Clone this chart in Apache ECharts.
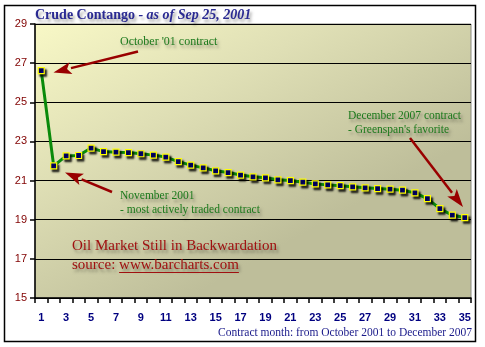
<!DOCTYPE html>
<html>
<head>
<meta charset="utf-8">
<style>
  html, body { margin: 0; padding: 0; background: #ffffff; }
  #chart { width: 485px; height: 347px; }
</style>
<script src="https://cdn.jsdelivr.net/npm/echarts@6/dist/echarts.min.js"></script>
</head>
<body>
<div id="chart"></div>
<script>
// Contract months 1..35 (October 2001 .. December 2007)
const months = Array.from({ length: 35 }, (_, i) => String(i + 1));

// Crude oil futures settlement prices, $/bbl, by contract month
const prices = [
  26.62, 21.75, 22.26, 22.28, 22.66, 22.48, 22.45, 22.43, 22.37, 22.30,
  22.20, 21.97, 21.79, 21.65, 21.50, 21.41, 21.28, 21.19, 21.14, 21.04,
  21.00, 20.92, 20.83, 20.78, 20.74, 20.68, 20.63, 20.59, 20.56, 20.51,
  20.37, 20.08, 19.57, 19.23, 19.11
];

const yMin = 15, yMax = 29, yStep = 2;

const serif = '"Liberation Serif", "DejaVu Serif", serif';
const sans = '"Liberation Sans", Arial, sans-serif';
const green = '#1c7a1c';
const darkRed = '#a01010';
const arrowRed = '#990000';

const shadowText = {
  textShadowColor: 'rgba(0,0,0,0.35)',
  textShadowBlur: 3,
  textShadowOffsetX: 2,
  textShadowOffsetY: 3
};

function note(text, left, top, color, size) {
  return {
    text: text,
    left: left,
    top: top,
    padding: 0,
    textStyle: Object.assign({
      fontFamily: serif,
      fontWeight: 'normal',
      fontSize: size,
      color: color
    }, shadowText)
  };
}

// Straight arrow: shaft plus triangular head ending at the tip
function arrow(x1, y1, x2, y2) {
  const dx = x2 - x1, dy = y2 - y1;
  const len = Math.sqrt(dx * dx + dy * dy);
  const ux = dx / len, uy = dy / len;
  const headLen = 18, headHalf = 6;
  const bx = x2 - ux * headLen, by = y2 - uy * headLen;
  return [
    {
      type: 'line', z: 50,
      shape: { x1: x1, y1: y1, x2: bx, y2: by },
      style: { stroke: arrowRed, lineWidth: 2.5 }
    },
    {
      type: 'polygon', z: 50,
      shape: { points: [
        [x2, y2],
        [bx - uy * headHalf, by + ux * headHalf],
        [bx + ux * 4, by + uy * 4],
        [bx + uy * headHalf, by - ux * headHalf]
      ] },
      style: { fill: arrowRed }
    }
  ];
}

// width of a string in a given font, for the link underline
const measureCtx = document.createElement('canvas').getContext('2d');
function textWidth(str, font) {
  measureCtx.font = font;
  return measureCtx.measureText(str).width;
}

const srcSize = 15;
const srcFont = srcSize + 'px ' + serif;
const srcLeft = 72;
const linkStart = srcLeft + textWidth('source: ', srcFont);
const linkEnd = srcLeft + textWidth('source: www.barcharts.com', srcFont);

const chart = echarts.init(document.getElementById('chart'), null, { renderer: 'canvas' });

const titleRich = {
  fontFamily: serif, fontSize: 14, color: '#2a2a92',
  textShadowColor: 'rgba(0,0,0,0.35)', textShadowBlur: 3,
  textShadowOffsetX: 2, textShadowOffsetY: 3
};

chart.setOption({
  backgroundColor: '#ffffff',
  animation: false,
  title: [
    {
      text: '{a|Crude Contango}{b| - as of Sep 25, 2001}',
      left: 35, top: 8, padding: 0,
      textStyle: {
        rich: {
          a: Object.assign({}, titleRich),
          b: Object.assign({ fontStyle: 'italic' }, titleRich)
        }
      }
    },
    note("October '01 contract", 120, 36, green, 12),
    note('November 2001', 120, 189.5, green, 11.5),
    note('- most actively traded contract', 120, 203.5, green, 11.5),
    note('December 2007 contract', 348, 110, green, 11.5),
    note("- Greenspan's favorite", 348, 124, green, 11.5),
    note('Oil Market Still in Backwardation', srcLeft, 239, darkRed, srcSize),
    note('source: www.barcharts.com', srcLeft, 258, darkRed, srcSize)
  ],
  grid: {
    left: 35, top: 24, right: 14, bottom: 49,
    show: true,
    borderColor: '#8a8a80',
    borderWidth: 1,
    backgroundColor: new echarts.graphic.LinearGradient(0, 0, 0.35, 1, [
      { offset: 0, color: '#f8f8c6' },
      { offset: 0.45, color: '#dfdfb5' },
      { offset: 1, color: '#bebe9a' }
    ])
  },
  xAxis: {
    type: 'category',
    data: months,
    boundaryGap: true,
    axisLine: { show: true, lineStyle: { color: '#000', width: 1.5 } },
    axisTick: { show: true, interval: 0, length: 5, lineStyle: { color: '#000', width: 1.5 } },
    axisLabel: {
      interval: 1, margin: 14,
      color: '#000080', fontFamily: sans, fontSize: 11, fontWeight: 'bold'
    },
    splitLine: { show: false }
  },
  yAxis: {
    type: 'value',
    min: yMin, max: yMax, interval: yStep,
    axisLine: { show: true, lineStyle: { color: '#000', width: 1.5 } },
    axisTick: { show: true, length: 5, lineStyle: { color: '#000', width: 1.5 } },
    axisLabel: { margin: 8, color: '#800000', fontFamily: sans, fontSize: 11 },
    splitLine: { show: true, lineStyle: { color: '#000', width: 1 } }
  },
  series: [{
    type: 'line',
    data: prices,
    z: 10,
    symbol: 'rect',
    symbolSize: 6,
    showAllSymbol: true,
    lineStyle: { color: '#0a8a0a', width: 3 },
    itemStyle: {
      color: '#00008a',
      borderColor: '#ffff00',
      borderWidth: 1.2,
      shadowColor: 'rgba(0,0,0,0.85)',
      shadowBlur: 2,
      shadowOffsetX: 2,
      shadowOffsetY: 2.5
    }
  }],
  graphic: [
    // outer frame
    {
      type: 'rect', z: 0,
      shape: { x: 4.5, y: 5.5, width: 471, height: 336 },
      style: { fill: null, stroke: '#000', lineWidth: 1.5 }
    },
    // axis caption
    {
      type: 'text', z: 60,
      style: {
        text: 'Contract month: from October 2001 to December 2007',
        x: 472, y: 333,
        textAlign: 'right', textVerticalAlign: 'middle',
        font: '11.5px ' + serif,
        fill: '#1a1a8a'
      }
    },
    // underline for the source link
    {
      type: 'line', z: 60,
      shape: { x1: linkStart, y1: 272.5, x2: linkEnd, y2: 272.5 },
      style: { stroke: darkRed, lineWidth: 1 }
    }
  ]
    .concat(arrow(138, 51.5, 53.5, 72.5))
    .concat(arrow(112, 192, 65, 172.5))
    .concat(arrow(410, 138, 463, 207))
});
</script>
</body>
</html>
